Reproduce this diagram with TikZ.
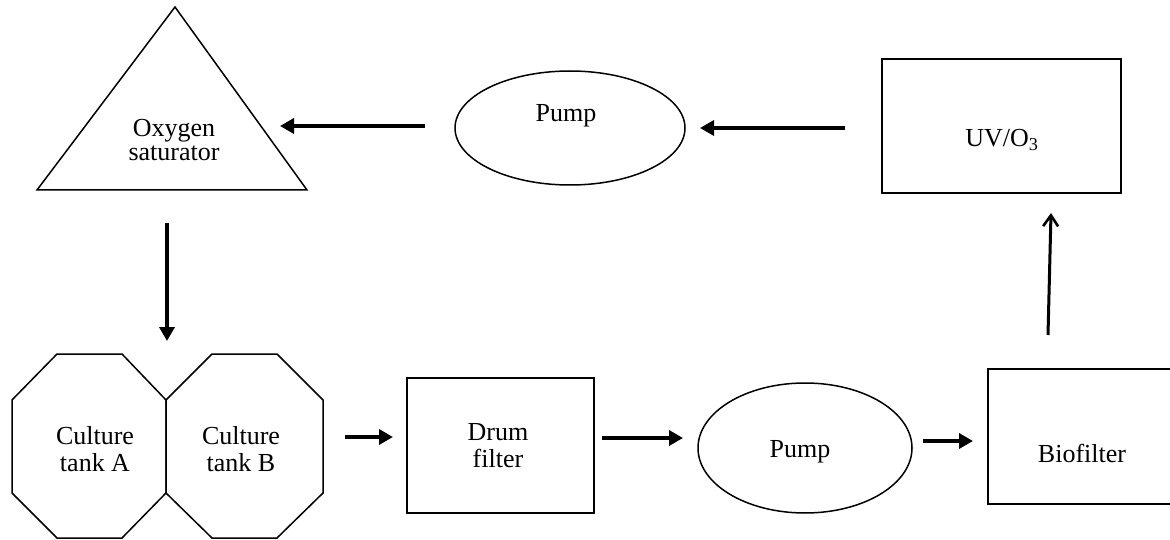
\documentclass[tikz,border=0pt]{standalone}
\usepackage{fontspec}
\setmainfont{Liberation Serif}
\usetikzlibrary{arrows.meta,shapes.geometric}
\begin{document}
\begin{tikzpicture}[x=1pt,y=-1pt,
  shapeline/.style={draw, line width=1.5pt},
  boxshape/.style={shapeline, rectangle, inner sep=0pt},
  ellshape/.style={shapeline, ellipse, inner sep=0pt},
  lbl/.style={font=\fontsize{26}{27}\selectfont, align=center, inner sep=0pt},
  flow/.style={line width=3.4pt, -{Triangle[length=14pt,width=15pt]}},
  thinflow/.style={line width=3pt, -{Straight Barb[length=11pt,width=15pt,line width=2.6pt]}}]
\useasboundingbox (0,0) rectangle (1170,540);

% oxygen saturator (triangle)
\draw[shapeline] (175,7) -- (307,190) -- (37,190) -- cycle;
\node[lbl, font=\fontsize{26}{24}\selectfont] (oxy) at (174,140) {Oxygen\\saturator};

% upper pump
\node[ellshape, minimum width=230pt, minimum height=114pt] (pumpU) at (570,128) {};
\node[lbl] (pumpUt) at (566,116) {Pump};

% UV/O3
\node[boxshape, minimum width=239pt, minimum height=134pt] (uv) at (1001.5,126) {};
\node[lbl] (uvt) at (1002,140) {UV/O\textsubscript{3}};

% culture tanks (octagons)
\draw[shapeline] (57,354) -- (122,354) -- (166,400) -- (166,493) -- (122,538) -- (57,538) -- (12,493) -- (12,400) -- cycle;
\draw[shapeline] (212,354) -- (277,354) -- (323,400) -- (323,493) -- (277,538) -- (212,538) -- (166,493) -- (166,400) -- cycle;
\node[lbl] (tankA) at (95,449) {Culture\\tank A};
\node[lbl] (tankB) at (241,449) {Culture\\tank B};

% drum filter
\node[boxshape, minimum width=187pt, minimum height=135pt] (drum) at (500.5,445.5) {};
\node[lbl] (drumt) at (498,446) {Drum\\filter};

% lower pump
\node[ellshape, minimum width=214pt, minimum height=130pt] (pumpL) at (805,448) {};
\node[lbl] (pumpLt) at (800,452) {Pump};

% biofilter
\node[boxshape, minimum width=184pt, minimum height=135pt] (bio) at (1080,436.5) {};
\node[lbl] (biot) at (1082,453) {Biofilter};

% connector end points
\coordinate (a1s) at (845,128); \coordinate (a1e) at (700,128);
\coordinate (a2s) at (425,126); \coordinate (a2e) at (280,126);
\coordinate (a3s) at (167,223); \coordinate (a3e) at (167,341);
\coordinate (a4s) at (345,437); \coordinate (a4e) at (393,437);
\coordinate (a5s) at (602,438); \coordinate (a5e) at (683,438);
\coordinate (a6s) at (923,441); \coordinate (a6e) at (973,441);
\coordinate (a7s) at (1048,335); \coordinate (a7e) at (1051,213);

\draw[flow] (a1s) -- (a1e);
\draw[flow] (a2s) -- (a2e);
\draw[flow] (a3s) -- (a3e);
\draw[flow] (a4s) -- (a4e);
\draw[flow] (a5s) -- (a5e);
\draw[flow] (a6s) -- (a6e);
\draw[thinflow] (a7s) -- (a7e);
\end{tikzpicture}
\end{document}
